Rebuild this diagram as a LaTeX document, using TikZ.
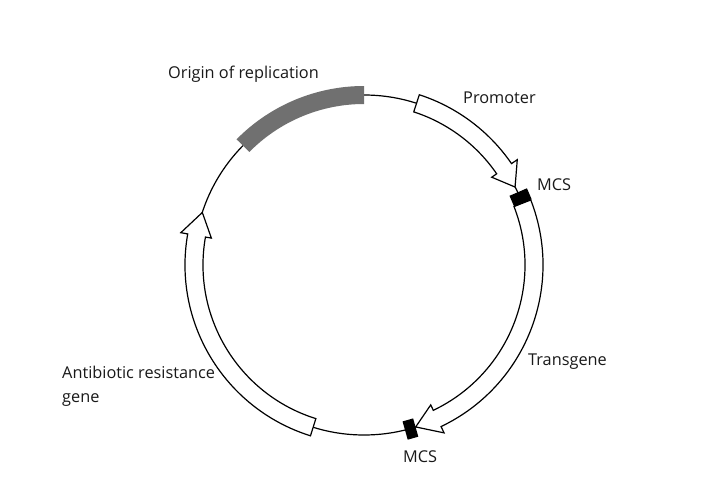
\documentclass[tikz,border=0pt]{standalone}
\usepackage{fontspec}
\setmainfont{Open Sans}
\definecolor{origray}{RGB}{112,112,112}
\newcommand\plasmidarrow[3]{%
  \draw[genearrow] (#1:179) arc[start angle=#1, end angle=#2, radius=179]
    -- (#2:186) -- (#3:170) -- (#2:155) -- (#2:161)
    arc[start angle=#2, end angle=#1, radius=161] -- cycle;}
\begin{document}
\begin{tikzpicture}[x=1pt,y=1pt,
  lbl/.style={font=\fontsize{16.3}{24}\selectfont, inner sep=0pt, text=black!90},
  genearrow/.style={draw=black, line width=1.2pt, fill=white, line join=miter},
  sitebox/.style={fill=black},
  oriblock/.style={fill=origray},
  backbone/.style={draw=black, line width=1.2pt}]
\useasboundingbox (0,-503) rectangle (720,0);
\fill[white] (0,-503) rectangle (720,0);
\coordinate (c) at (364,-265);
\begin{scope}[shift={(c)}]
  \draw[backbone] (0,0) circle (170);
  % origin of replication
  \fill[oriblock] (90:161) arc[start angle=90, end angle=135.4, radius=161]
    -- (135.4:179) arc[start angle=135.4, end angle=90, radius=179] -- cycle;
  % promoter
  \plasmidarrow{72}{34.5}{27.3}
  % transgene
  \plasmidarrow{21.3}{-64.5}{-72.3}
  % antibiotic resistance
  \plasmidarrow{252.6}{170}{162}
  % MCS sites
  \fill[sitebox, rotate=23.3] (161,-6) rectangle (180,6);
  \fill[sitebox, rotate=-74.2] (161,-5.5) rectangle (180,5.5);
\end{scope}
\node[lbl, anchor=base west] (ori) at (168,-78) {Origin of replication};
\node[lbl, anchor=base west] (prom) at (463,-103) {Promoter};
\node[lbl, anchor=base west] (mcs1) at (537,-190) {MCS};
\node[lbl, anchor=base west] (trans) at (528,-365) {Transgene};
\node[lbl, anchor=base west] (mcs2) at (403,-462) {MCS};
\node[lbl, anchor=base west, align=left] (abr) at (62,-402) {Antibiotic resistance\\gene};
\end{tikzpicture}
\end{document}
